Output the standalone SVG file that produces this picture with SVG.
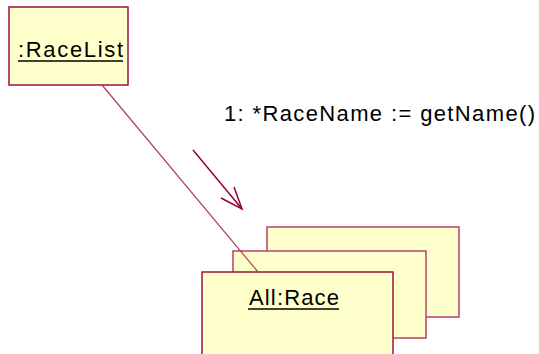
<svg xmlns="http://www.w3.org/2000/svg" width="539" height="354" viewBox="0 0 539 354">
<style>
.box{fill:#FFFFCC;stroke:#A0103C;stroke-width:1.5}
.back{fill:#FFFFCC;stroke:#B8406A;stroke-width:1.5}
.t{font-family:"Liberation Sans",Arial,sans-serif;font-size:22px;fill:#000}
.ul{stroke:#000;stroke-width:1.5}
.link{stroke:#B03A64;stroke-width:1.2;fill:none}
.arr{stroke:#990033;stroke-width:1.5;fill:none}
</style>
<rect width="539" height="354" fill="#FFFFFF"/>
<g id="racelist">
<rect class="box" x="9" y="7" width="119" height="78"/>
<text class="t" x="18" y="57" textLength="105" lengthAdjust="spacing">:RaceList</text>
<line class="ul" x1="18" y1="61" x2="123" y2="61"/>
</g>
<g id="race">
<rect class="back" x="267" y="227" width="192" height="90"/>
<rect class="back" x="233" y="251" width="193" height="87"/>
<rect class="box" x="202" y="272" width="191" height="100"/>
<text class="t" x="249" y="305" textLength="90" lengthAdjust="spacing">All:Race</text>
<line class="ul" x1="248" y1="309" x2="339" y2="309"/>
</g>
<g id="connectors">
<line class="link" x1="102" y1="85" x2="258" y2="272"/>
<line class="arr" x1="193" y1="150" x2="242" y2="209"/>
<polyline class="arr" points="221,198 242,209 234,187"/>
</g>
<text class="t" x="224" y="121" font-size="22" textLength="311" lengthAdjust="spacing">1: *RaceName := getName()</text>
</svg>
